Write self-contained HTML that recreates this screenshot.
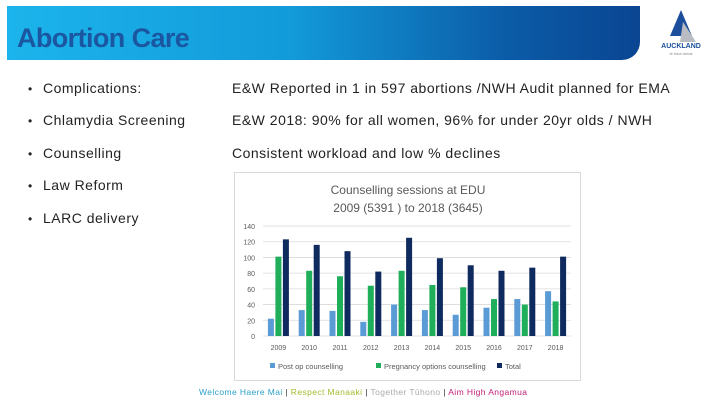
<!DOCTYPE html>
<html><head><meta charset="utf-8"><style>
body{margin:0;width:720px;height:405px;background:#fff;position:relative;overflow:hidden;font-family:"Liberation Sans",sans-serif}
.banner{position:absolute;left:7px;top:6px;width:633px;height:54px;background:linear-gradient(90deg,#1cb4ec 0%,#129ad9 45%,#0b5aa6 80%,#0a4592 100%);border-bottom-right-radius:18px}
.title{position:absolute;left:17px;top:23px;font-size:27px;font-weight:bold;color:#1b56a0;letter-spacing:-0.6px}
.b{position:absolute;font-size:14px;color:#222;letter-spacing:0.5px}
.dot{position:absolute;left:28px;font-size:12px;color:#222}
.foot{position:absolute;top:387px;left:199px;font-size:8.5px;letter-spacing:0.4px;white-space:nowrap}
</style></head><body>
<div class="banner"></div>
<div class="title">Abortion Care</div>
<svg style="position:absolute;left:650px;top:8px" width="62" height="50">
<polygon points="31,2 20,28 42,28" fill="#1b4f9c"/><polygon points="33,14 46,34 30,34" fill="#b9bcc2"/>
<text x="31" y="40" font-size="7" font-weight="bold" text-anchor="middle" fill="#1b4f9c">AUCKLAND</text>
<text x="31" y="47" font-size="4" text-anchor="middle" fill="#888">te toka tumai</text></svg>
<div class="dot" style="top:82px">•</div><div class="b" style="left:43px;top:80px">Complications:</div>
<div class="b" style="left:232px;top:80px">E&amp;W Reported in 1 in 597 abortions /NWH Audit planned for EMA</div>
<div class="dot" style="top:114px">•</div><div class="b" style="left:43px;top:112px">Chlamydia Screening</div>
<div class="b" style="left:232px;top:112px">E&amp;W 2018: 90% for all women, 96% for under 20yr olds / NWH</div>
<div class="dot" style="top:147px">•</div><div class="b" style="left:43px;top:145px">Counselling</div>
<div class="b" style="left:232px;top:145px">Consistent workload and low % declines</div>
<div class="dot" style="top:179px">•</div><div class="b" style="left:43px;top:177px">Law Reform</div>
<div class="dot" style="top:212px">•</div><div class="b" style="left:43px;top:210px">LARC delivery</div>
<svg id="chart" style="position:absolute;left:0;top:0" width="720" height="405"></svg>
<div class="foot"><span style="color:#2aa0c8">Welcome Haere Mai</span> <span style="color:#333">|</span> <span style="color:#a8b830">Respect Manaaki</span> <span style="color:#333">|</span> <span style="color:#aaa">Together Tūhono</span> <span style="color:#333">|</span> <span style="color:#c0207a">Aim High Angamua</span></div>
<script>
const years=["2009","2010","2011","2012","2013","2014","2015","2016","2017","2018"];
const postOp=[22,33,32,18,40,33,27,36,47,57];
const pregnancy=[101,83,76,64,83,65,62,47,40,44];
const total=[123,116,108,82,125,99,90,83,87,101];
const yTicks=[0,20,40,60,80,100,120,140];
const colors=["#5b9bd5","#1fae5a","#0e2a5e"];
const NS="http://www.w3.org/2000/svg",svg=document.getElementById('chart');
function mk(t,a,p){const e=document.createElementNS(NS,t);for(const k in a)e.setAttribute(k,a[k]);(p||svg).appendChild(e);return e;}
const x0=263,x1=571,y0=336,yTop=226,vmax=140;
const y=v=>y0-(v/vmax)*(y0-yTop);
const band=(x1-x0)/years.length;
const xc=i=>x0+band*(i+0.5);
const frame=mk('rect',{x:234.5,y:172.5,width:346,height:208,fill:'#fff',stroke:'#d9d9d9'});


const t1=mk('text',{x:408,y:194,'font-size':12,'text-anchor':'middle',fill:'#595959'});t1.textContent='Counselling sessions at EDU';


const t2=mk('text',{x:408,y:212,'font-size':12,'text-anchor':'middle',fill:'#595959'});t2.textContent='2009 (5391 ) to 2018 (3645)';


yTicks.forEach(v=>{
const g=mk('line',{x1:x0,x2:x1,y1:y(v),y2:y(v),stroke:'#d9d9d9','stroke-width':0.8});


const l=mk('text',{x:255,y:y(v)+3,'font-size':7,'text-anchor':'end',fill:'#595959'});l.textContent=v;


});
const series=[postOp,pregnancy,total],bw=6,gap=1.5;
years.forEach((yr,i)=>{
series.forEach((s,j)=>{
const bx=xc(i)+(j-1)*(bw+gap)-bw/2;
const r=mk('rect',{x:bx,y:y(s[i]),width:bw,height:y0-y(s[i]),fill:colors[j]});


});
const tl=mk('text',{x:xc(i),y:350,'font-size':7,'text-anchor':'middle',fill:'#595959'});tl.textContent=yr;


});
const leg=[["Post op counselling",270],["Pregnancy options counselling",376],["Total",497]];
leg.forEach((e,j)=>{
const s=mk('rect',{x:e[1],y:363,width:5,height:5,fill:colors[j]});


const t=mk('text',{x:e[1]+8,y:369,'font-size':7.5,fill:'#595959'});t.textContent=e[0];


});
</script>
</body></html>
